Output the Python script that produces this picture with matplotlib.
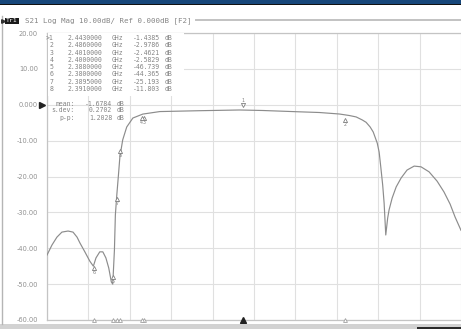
import numpy as np
import matplotlib
matplotlib.use("Agg")
import matplotlib.pyplot as plt
from matplotlib.patches import Rectangle
from matplotlib.lines import Line2D
from matplotlib.transforms import ScaledTranslation

W, H = 461, 329

# ---- data ----
freq_ghz = [2.3600, 2.3621, 2.3642, 2.3663, 2.3689, 2.3710, 2.3727, 2.3739, 2.3760, 2.3781,
            2.3796, 2.3807, 2.3823, 2.3836, 2.3849, 2.3861, 2.3872, 2.3878, 2.3885, 2.3889,
            2.3895, 2.3902, 2.3908, 2.3920, 2.3937, 2.3963, 2.4005, 2.4077, 2.4245, 2.4414,
            2.4511, 2.4654, 2.4751, 2.4836, 2.4878, 2.4907, 2.4933, 2.4949, 2.4966, 2.4979,
            2.4996, 2.5004, 2.5011, 2.5019, 2.5025, 2.5032, 2.5040, 2.5046, 2.5059, 2.5076,
            2.5097, 2.5122, 2.5152, 2.5181, 2.5215, 2.5249, 2.5278, 2.5304, 2.5325, 2.5350]
s21_db = [-41.9, -39.1, -36.9, -35.5, -35.2, -35.5, -36.9, -38.5, -41.0, -43.6,
          -45.0, -42.7, -41.0, -41.0, -42.7, -45.5, -49.4, -50.0, -40.5, -30.7,
          -25.2, -19.6, -14.6, -9.8, -6.2, -3.7, -2.6, -1.9, -1.66, -1.46,
          -1.6, -1.94, -2.16, -2.58, -3.0, -3.4, -4.25, -4.9, -6.2, -7.6,
          -10.7, -13.2, -17.4, -22.4, -27.4, -36.3, -31.6, -29.3, -26.0, -22.9,
          -20.4, -18.2, -17.1, -17.3, -18.7, -21.3, -24.3, -27.7, -31.3, -35.0]

marker_ids = [1, 2, 3, 4, 5, 6, 7, 8]
marker_freq = [2.4430, 2.4860, 2.4010, 2.4000, 2.3880, 2.3800, 2.3895, 2.3910]
marker_db = [-1.4385, -2.9786, -2.4621, -2.5829, -46.739, -44.365, -25.193, -11.803]

stats_labels = ["mean:", "s.dev:", "p-p:"]
stats_values = [-1.6784, 0.2702, 1.2028]

y_ticks = [20, 10, 0, -10, -20, -30, -40, -50, -60]
y_tick_labels = ["20.00", "10.00", "0.000", "-10.00", "-20.00", "-30.00",
                 "-40.00", "-50.00", "-60.00"]
f_start, f_stop = 2.360, 2.535
title_text = "S21 Log Mag 10.00dB/ Ref 0.000dB [F2]"

# ---- helpers ----
def fx(x):
    return x / W

def fy(y):
    return 1 - y / H

TXT = "#858585"
MONO = "DejaVu Sans Mono"

fig = plt.figure(figsize=(W / 100, H / 100), dpi=100)
fig.patch.set_facecolor("white")

# main plot area
ax = fig.add_axes([fx(47), fy(320), 414 / W, 287 / H])
ax.set_xlim(f_start, f_stop)
ax.set_ylim(-60, 20)
ax.set_xticks(np.linspace(f_start, f_stop, 11))
ax.set_xticklabels([])
ax.set_yticks(y_ticks)
ax.set_yticklabels(y_tick_labels, fontsize=4.8, color="#909090", family="DejaVu Sans")
ax.tick_params(length=0, pad=6.5)
ax.grid(True, color="#e0e0e0", lw=0.8)
ax.set_axisbelow(True)
for s in ax.spines.values():
    s.set_color("#c4c4c4")
    s.set_linewidth(0.9)
ax.spines["right"].set_visible(False)

# trace
ax.plot(freq_ghz, s21_db, color="#8c8c8c", lw=0.85, zorder=3)

# markers on trace
for mid, f, d in zip(marker_ids, marker_freq, marker_db):
    if mid == 1:
        off = ScaledTranslation(0, 3.2 / 72, fig.dpi_scale_trans)
        ax.plot([f], [d], marker="v", ms=3.0, mfc="white", mec="#808080", mew=0.6,
                transform=ax.transData + off, zorder=4)
        ax.text(f, d, str(mid), fontsize=3.4, color="#808080", ha="center", va="bottom",
                transform=ax.transData + ScaledTranslation(0, 4.8 / 72, fig.dpi_scale_trans),
                zorder=4)
    else:
        off = ScaledTranslation(0, -3.0 / 72, fig.dpi_scale_trans)
        ax.plot([f], [d], marker="^", ms=3.0, mfc="white", mec="#808080", mew=0.6,
                transform=ax.transData + off, zorder=4)
        ax.text(f, d, str(mid), fontsize=3.4, color="#808080", ha="center", va="top",
                transform=ax.transData + ScaledTranslation(0, -4.4 / 72, fig.dpi_scale_trans),
                zorder=4)

# bottom marker position indicators
ax.plot(marker_freq[1:], [-60] * (len(marker_freq) - 1), linestyle="none", marker="^",
        ms=2.8, mfc="white", mec="#a0a0a0", mew=0.6, clip_on=False, zorder=5)
ax.plot([marker_freq[0]], [-60], linestyle="none", marker="^", ms=4.6, color="#222",
        clip_on=False, zorder=5)

# reference position arrow
fig.add_artist(Line2D([fx(42)], [fy(104.75)], marker=">", ms=4.2, color="#222",
                      transform=fig.transFigure))

# top dark band
fig.add_artist(Rectangle((0, fy(3.6)), 1, 3.6 / H, transform=fig.transFigure,
                         facecolor="#17477a", edgecolor="none"))
fig.add_artist(Rectangle((0, fy(5.2)), 1, 1.6 / H, transform=fig.transFigure,
                         facecolor="#111111", edgecolor="none"))
# separator line on title row
fig.add_artist(Line2D([fx(196), 1], [fy(19.5), fy(19.5)], color="#c2c2c2", lw=1.4,
                      transform=fig.transFigure))
# left border
fig.add_artist(Line2D([fx(1.5), fx(1.5)], [fy(16), fy(324)], color="#b5b5b5", lw=1.0,
                      transform=fig.transFigure))
# bottom band
fig.add_artist(Rectangle((0, 0), 1, 5.5 / H, transform=fig.transFigure,
                         facecolor="#d2d2d2", edgecolor="none"))
fig.add_artist(Rectangle((fx(417), 0), 1 - fx(417), 2.5 / H, transform=fig.transFigure,
                         facecolor="#2a2a2a", edgecolor="none"))

# title
fig.add_artist(Line2D([fx(3.2)], [fy(21)], marker=">", ms=2.6, color="#333",
                      transform=fig.transFigure))
fig.text(fx(12), fy(21), "Tr1", fontsize=4.6, family=MONO, color="white",
         ha="center", va="center",
         bbox=dict(boxstyle="square,pad=0.15", facecolor="#1a1a1a", edgecolor="none"))
fig.text(fx(25), fy(21), title_text, fontsize=5.4, family=MONO, color=TXT,
         ha="left", va="center")

# marker table box
fig.add_artist(Rectangle((fx(47.5), fy(96)), (184 - 47.5) / W, (96 - 33.5) / H,
                         transform=fig.transFigure, facecolor="white", edgecolor="none"))
row0, dy = 38.0, 7.3
for i, (mid, f, d) in enumerate(zip(marker_ids, marker_freq, marker_db)):
    yy = fy(row0 + i * dy)
    lab = (">" if i == 0 else "") + str(mid)
    fig.text(fx(53), yy, lab, fontsize=4.7, family=MONO, color=TXT, ha="right", va="center")
    fig.text(fx(68), yy, f"{f:.7f}", fontsize=4.7, family=MONO, color=TXT, ha="left", va="center")
    fig.text(fx(112), yy, "GHz", fontsize=4.7, family=MONO, color=TXT, ha="left", va="center")
    val = f"{d:.4f}" if abs(d) < 10 else f"{d:.3f}"
    fig.text(fx(160), yy, val, fontsize=4.7, family=MONO, color=TXT, ha="right", va="center")
    fig.text(fx(165), yy, "dB", fontsize=4.7, family=MONO, color=TXT, ha="left", va="center")

# statistics
for i, (lab, v) in enumerate(zip(stats_labels, stats_values)):
    yy = fy(103.5 + i * 7.0)
    fig.text(fx(75), yy, lab, fontsize=4.7, family=MONO, color=TXT, ha="right", va="center")
    fig.text(fx(112), yy, f"{v:.4f}", fontsize=4.7, family=MONO, color=TXT, ha="right", va="center")
    fig.text(fx(117), yy, "dB", fontsize=4.7, family=MONO, color=TXT, ha="left", va="center")

fig.savefig("out.png", dpi=100, facecolor="white")
